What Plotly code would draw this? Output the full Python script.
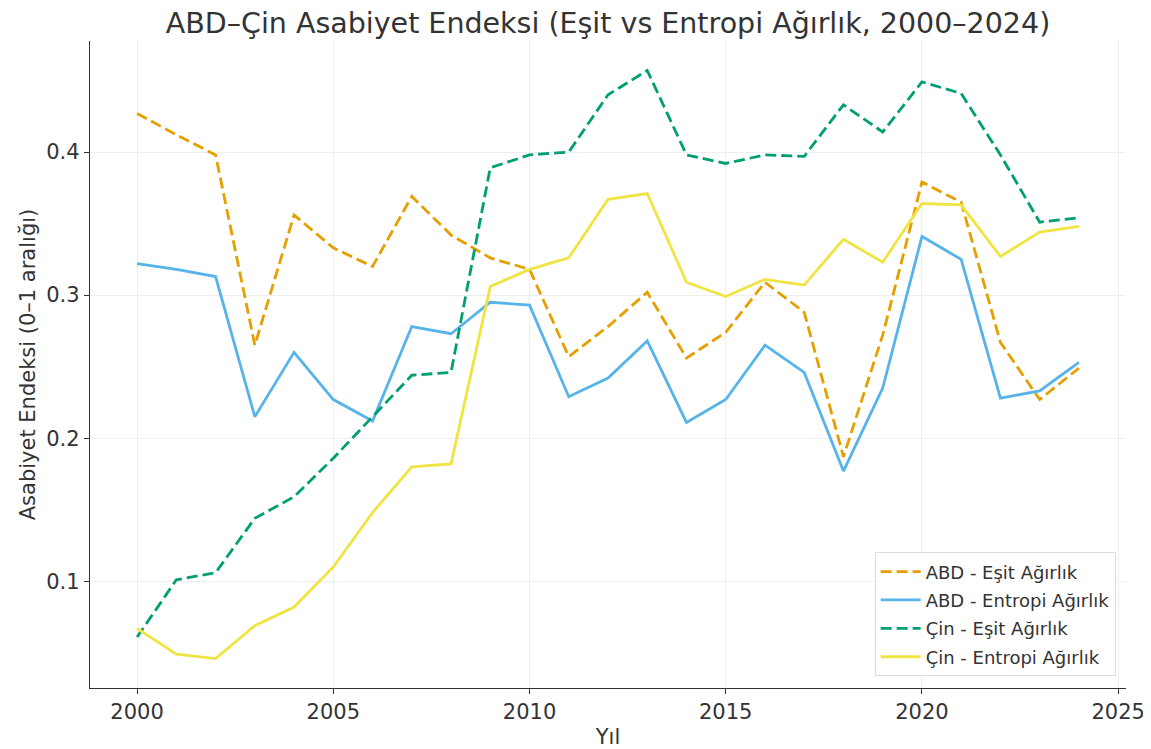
import plotly.graph_objects as go

years = list(range(2000, 2025))

abd_esit = [0.427, 0.412, 0.398, 0.265, 0.356, 0.333, 0.320, 0.369, 0.342, 0.326,
            0.318, 0.257, 0.278, 0.302, 0.256, 0.274, 0.309, 0.288, 0.187, 0.272,
            0.379, 0.365, 0.267, 0.227, 0.249]
abd_entropi = [0.322, 0.318, 0.313, 0.215, 0.260, 0.227, 0.212, 0.278, 0.273, 0.295,
               0.293, 0.229, 0.242, 0.268, 0.211, 0.227, 0.265, 0.246, 0.177, 0.235,
               0.341, 0.325, 0.228, 0.233, 0.253]
cin_esit = [0.061, 0.101, 0.106, 0.144, 0.159, 0.186, 0.215, 0.244, 0.246, 0.389,
            0.398, 0.400, 0.440, 0.457, 0.398, 0.392, 0.398, 0.397, 0.433, 0.414,
            0.449, 0.441, 0.398, 0.351, 0.354]
cin_entropi = [0.067, 0.049, 0.046, 0.069, 0.082, 0.110, 0.148, 0.180, 0.182, 0.306,
               0.318, 0.326, 0.367, 0.371, 0.309, 0.299, 0.311, 0.307, 0.339, 0.323,
               0.364, 0.363, 0.327, 0.344, 0.348]

x_ticks = [2000, 2005, 2010, 2015, 2020, 2025]
y_ticks = [0.1, 0.2, 0.3, 0.4]

series = [
    ("ABD - Eşit Ağırlık", abd_esit, "#E69F00", "dash"),
    ("ABD - Entropi Ağırlık", abd_entropi, "#56B4E9", "solid"),
    ("Çin - Eşit Ağırlık", cin_esit, "#009E73", "dash"),
    ("Çin - Entropi Ağırlık", cin_entropi, "#F0E442", "solid"),
]

fig = go.Figure()
for name, vals, color, dash in series:
    fig.add_trace(go.Scatter(
        x=years, y=vals, mode="lines", name=name, legendgroup=name,
        line=dict(color=color, width=2.8, dash="11px,5px" if dash == "dash" else "solid"),
    ))

W, H = 1143, 741
fig.update_layout(
    width=W, height=H,
    margin=dict(l=82, r=25, t=33, b=61),
    paper_bgcolor="white", plot_bgcolor="white",
    font=dict(family="DejaVu Sans, Verdana, sans-serif", size=21, color="#333333"),
    title=dict(text="ABD–Çin Asabiyet Endeksi (Eşit vs Entropi Ağırlık, 2000–2024)",
               x=0.5, xref="paper", xanchor="center", y=1 - 15 / H, yanchor="middle",
               font=dict(size=28.5, color="#333333")),
    showlegend=True,
    legend=dict(x=0.990, xanchor="right", y=0.018, yanchor="bottom",
                traceorder="grouped", tracegroupgap=2, itemwidth=40,
                bgcolor="rgba(255,255,255,0.85)", bordercolor="#dddddd", borderwidth=1,
                font=dict(size=18, color="#333333")),
    xaxis=dict(
        range=[1998.8, 2025.2], tickmode="array", tickvals=x_ticks,
        showgrid=True, gridcolor="#eeeeee", gridwidth=1, zeroline=False,
        showline=True, linecolor="#333333", linewidth=1.4,
        ticks="outside", ticklen=5, tickcolor="#333333",
        automargin=False,
        title=dict(text="Yıl", standoff=5, font=dict(size=21)),
        tickfont=dict(size=21),
    ),
    yaxis=dict(
        range=[0.0254, 0.4776], tickmode="array", tickvals=y_ticks,
        ticktext=[f"{v:.1f}" for v in y_ticks],
        showgrid=True, gridcolor="#eeeeee", gridwidth=1, zeroline=False,
        showline=True, linecolor="#333333", linewidth=1.4,
        ticks="outside", ticklen=5, tickcolor="#333333",
        automargin=False,
        title=dict(text="Asabiyet Endeksi (0–1 aralığı)", standoff=4, font=dict(size=21)),
        tickfont=dict(size=21),
    ),
)

fig.write_html("out.html")
